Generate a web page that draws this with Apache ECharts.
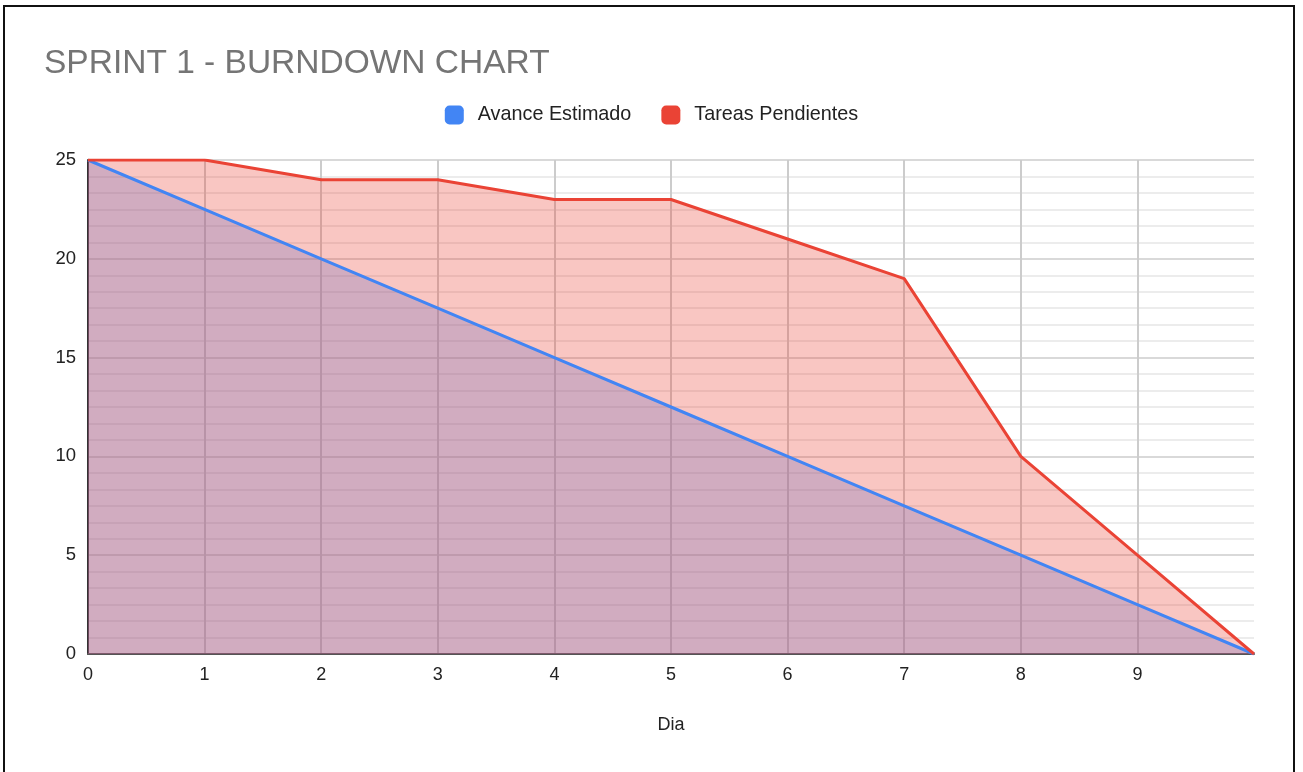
<!DOCTYPE html>
<html>
<head>
<meta charset="utf-8">
<script src="https://cdn.jsdelivr.net/npm/echarts@6/dist/echarts.min.js"></script>
<style>
  html, body { margin: 0; padding: 0; background: #fff; overflow: hidden; }
  #chart { position: absolute; left: 0; top: 0; width: 1303px; height: 772px; }
  #frame { position: absolute; left: 3px; top: 5px; width: 1288px; height: 800px; border: 2px solid #111; pointer-events: none; }
</style>
</head>
<body>
<div id="chart"></div>
<div id="frame"></div>
<script>
const titleText = 'SPRINT 1 - BURNDOWN CHART';
const xAxisName = 'Dia';
const days = [0, 1, 2, 3, 4, 5, 6, 7, 8, 9, 10];
const estimado = [25, 22.5, 20, 17.5, 15, 12.5, 10, 7.5, 5, 2.5, 0];
const pendientes = [25, 25, 24, 24, 23, 23, 21, 19, 10, 5, 0];
const seriesNames = ['Avance Estimado', 'Tareas Pendientes'];
const colors = ['#4285F4', '#EA4335'];

const font = 'Arial, "Liberation Sans", sans-serif';
const pairs = arr => days.map((d, i) => [d, arr[i]]);

const chart = echarts.init(document.getElementById('chart'));
chart.setOption({
  animation: false,
  title: {
    text: titleText,
    left: 39, top: 42,
    textStyle: { fontFamily: font, fontSize: 33.5, fontWeight: 'normal', color: '#757575' }
  },
  legend: {
    data: seriesNames.map(n => ({ name: n })),
    top: 100,
    left: 'center',
    icon: 'roundRect',
    itemWidth: 19, itemHeight: 19,
    itemGap: 30,
    textStyle: { fontFamily: font, fontSize: 19.8, color: '#222', padding: [0, 0, 0, 9] }
  },
  grid: { left: 88, right: 49, top: 160, bottom: 118, containLabel: false },
  xAxis: {
    type: 'value', min: 0, max: 10, interval: 1,
    name: xAxisName, nameLocation: 'middle', nameGap: 62,
    nameTextStyle: { fontFamily: font, fontSize: 18, color: '#222' },
    axisLine: { show: true, lineStyle: { color: '#555', width: 2 } },
    axisTick: { show: false },
    axisLabel: { fontFamily: font, fontSize: 18, color: '#222', margin: 12,
      formatter: v => (v === 10 ? '' : String(v)) },
    splitLine: { show: true, showMinLine: false, showMaxLine: false, lineStyle: { color: '#cccccc', width: 2 } }
  },
  yAxis: {
    type: 'value', min: 0, max: 25, interval: 5,
    axisLine: { show: true, lineStyle: { color: '#333', width: 2 } },
    axisTick: { show: false },
    axisLabel: { fontFamily: font, fontSize: 18.5, color: '#222', margin: 12 },
    splitLine: { show: true, lineStyle: { color: '#cccccc', width: 1.5 } },
    minorTick: { show: false, splitNumber: 6 },
    minorSplitLine: { show: true, lineStyle: { color: '#e6e6e6', width: 1.5 } }
  },
  series: [
    { name: seriesNames[0], type: 'line', data: pairs(estimado), z: 2, showSymbol: false,
      color: colors[0], lineStyle: { width: 0 }, areaStyle: { color: colors[0], opacity: 0.3 } },
    { name: seriesNames[1], type: 'line', data: pairs(pendientes), z: 3, showSymbol: false,
      color: colors[1], lineStyle: { width: 0 }, areaStyle: { color: colors[1], opacity: 0.3 } },
    { name: seriesNames[0], type: 'line', data: pairs(estimado), z: 4, showSymbol: false,
      color: colors[0], lineStyle: { width: 3, color: colors[0] } },
    { name: seriesNames[1], type: 'line', data: pairs(pendientes), z: 5, showSymbol: false,
      color: colors[1], lineStyle: { width: 3, color: colors[1] } }
  ]
});
</script>
</body>
</html>
